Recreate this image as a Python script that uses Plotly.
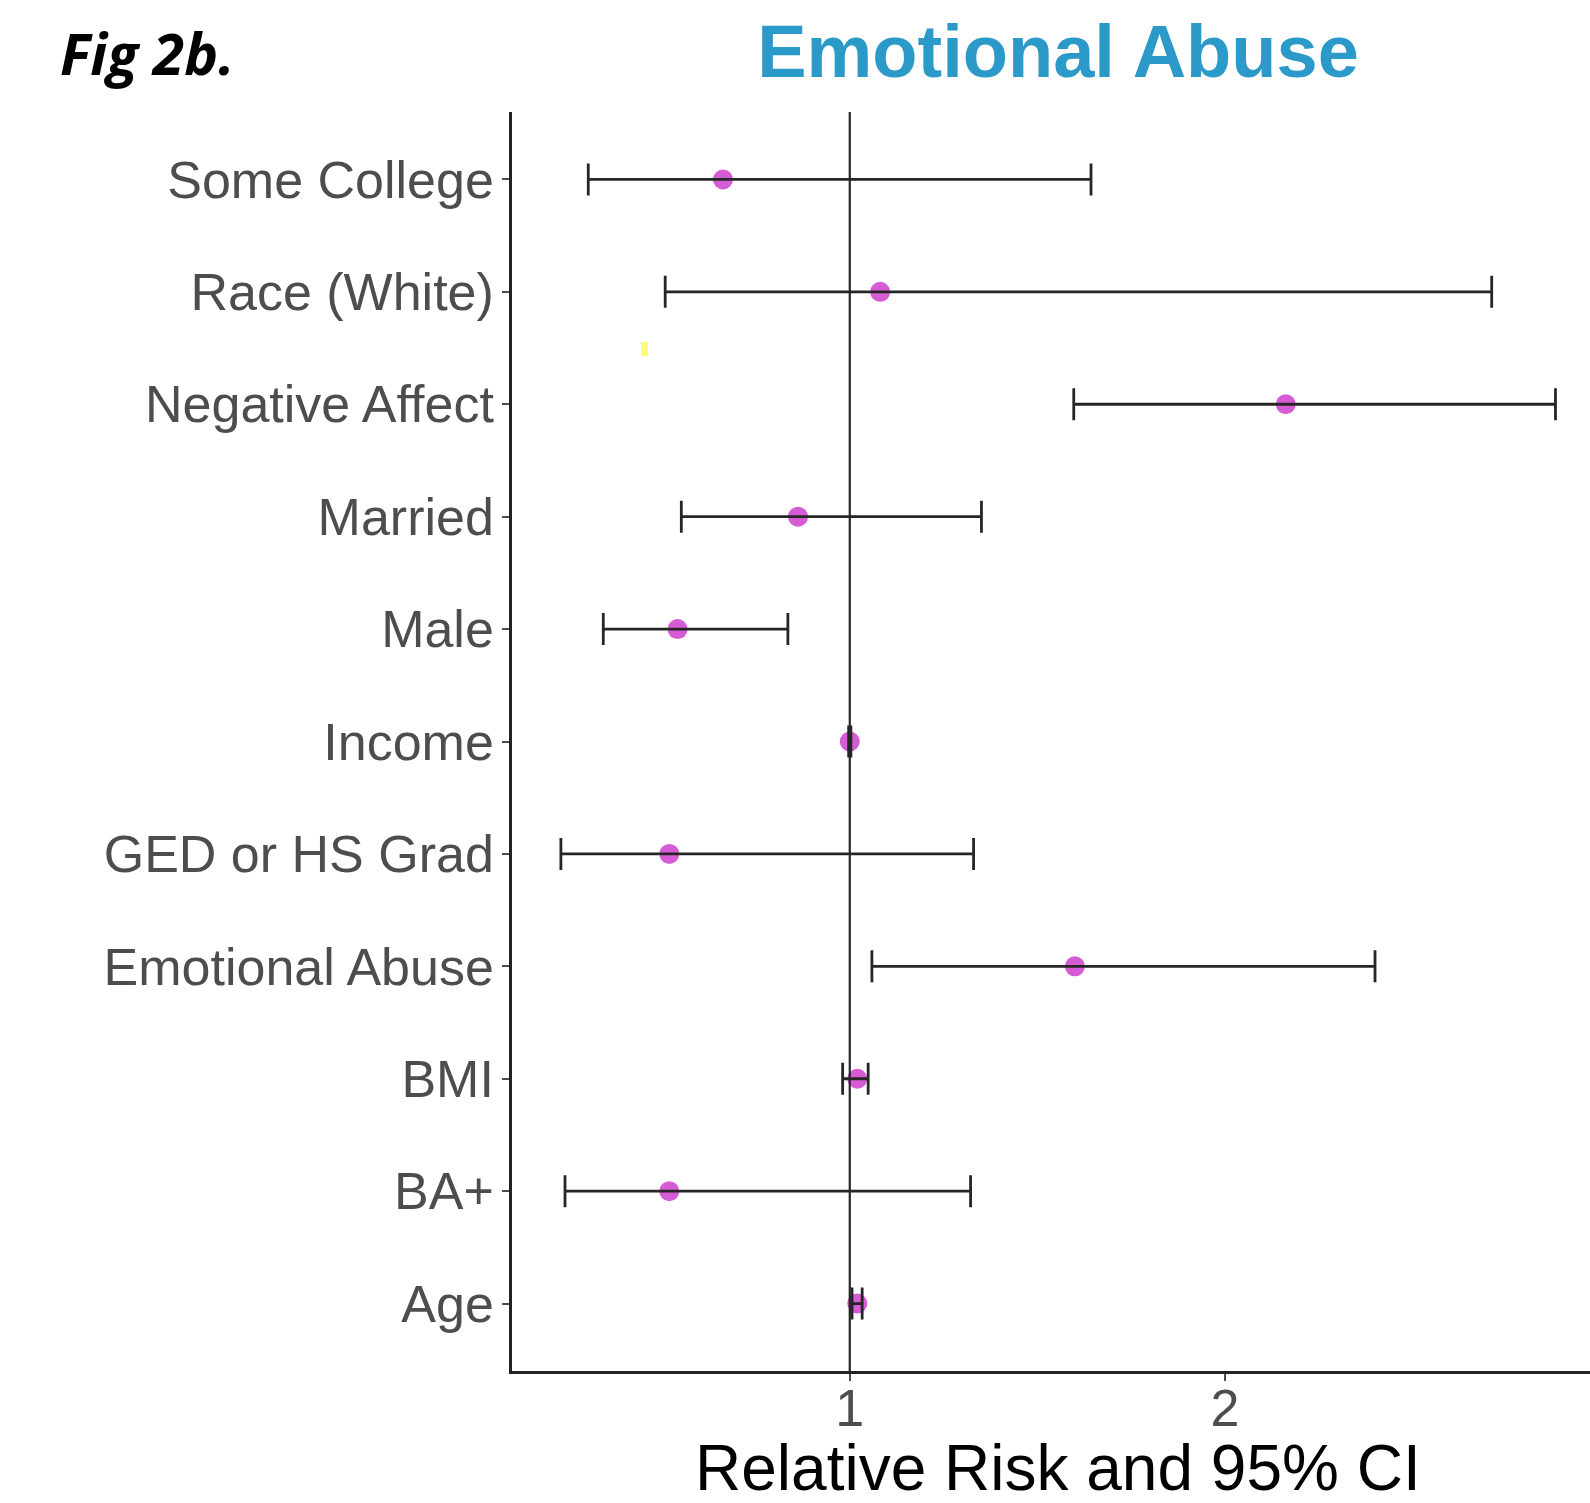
import plotly.graph_objects as go

# ---- data ----
categories = ["Age", "BA+", "BMI", "Emotional Abuse", "GED or HS Grad", "Income",
              "Male", "Married", "Negative Affect", "Race (White)", "Some College"]
rr    = [1.020, 0.519, 1.020, 1.600, 0.519, 1.000, 0.541, 0.862, 2.162, 1.081, 0.662]
lower = [1.006, 0.241, 0.981, 1.059, 0.230, 0.997, 0.343, 0.551, 1.597, 0.508, 0.303]
upper = [1.033, 1.322, 1.049, 2.400, 1.330, 1.003, 0.835, 1.351, 2.881, 2.711, 1.643]
x_ticks = [1, 2, 3]
x_range = [0.0997, 2.973]

err_plus = [u - r for u, r in zip(upper, rr)]
err_minus = [r - l for r, l in zip(rr, lower)]

FONT = "Liberation Sans, Arial, sans-serif"

fig = go.Figure()

# points first (error bars drawn on top, like the reference)
fig.add_trace(go.Scatter(
    x=rr, y=categories, mode="markers",
    marker=dict(color="#CC33CC", size=20, opacity=0.8, line=dict(width=0)),
    showlegend=False, hoverinfo="x+y",
))
fig.add_trace(go.Scatter(
    x=rr, y=categories, mode="markers",
    marker=dict(color="rgba(0,0,0,0)", size=1),
    error_x=dict(type="data", symmetric=False, array=err_plus, arrayminus=err_minus,
                 color="#262626", thickness=2.8, width=16),
    showlegend=False, hoverinfo="skip",
))

# reference line at RR = 1
fig.add_shape(type="line", xref="x", yref="paper", x0=1, x1=1, y0=0, y1=1,
              line=dict(color="#262626", width=2.2), layer="above")

# small yellow artifact present in the source image
fig.add_shape(type="rect", xref="paper", yref="paper",
              x0=(641 - 512) / 1078, x1=(648 - 512) / 1078,
              y0=(1371 - 356) / 1259, y1=(1371 - 342) / 1259,
              fillcolor="#FFFF77", line=dict(width=0), layer="above")

fig.update_layout(
    width=1590, height=1503,
    margin=dict(l=512, r=0, t=112, b=132, autoexpand=False),
    paper_bgcolor="white", plot_bgcolor="white",
    font=dict(family=FONT),
    title=dict(text="<b>Emotional Abuse</b>", x=1058 / 1590, y=1 - 51 / 1503,
               xanchor="center", yanchor="middle", xref="container", yref="container",
               font=dict(family=FONT, size=74, color="#2C9AC9")),
    xaxis=dict(range=x_range, tickvals=x_ticks, ticktext=[str(v) for v in x_ticks],
               showgrid=False, zeroline=False, showline=True, linecolor="#222222",
               linewidth=2.5, ticks="outside", ticklen=7, tickwidth=2, tickcolor="#4D4D4D",
               ticklabelstandoff=-17,
               tickfont=dict(family=FONT, size=52, color="#4D4D4D")),
    yaxis=dict(type="category", categoryorder="array", categoryarray=categories,
               range=[-0.6, len(categories) - 0.4],
               showgrid=False, zeroline=False, showline=True, linecolor="#222222",
               linewidth=2.5, ticks="outside", ticklen=7, tickwidth=2, tickcolor="#4D4D4D",
               ticklabelstandoff=-2,
               tickfont=dict(family=FONT, size=52, color="#4D4D4D")),
    annotations=[
        dict(text="<b><i>Fig 2b.</i></b>", xref="paper", yref="paper",
             x=(58 - 512) / 1078, y=(1371 - 53) / 1259, xanchor="left", yanchor="middle",
             showarrow=False, font=dict(family="Open Sans, sans-serif", size=57, color="black")),
        dict(text="Relative Risk and 95% CI", xref="paper", yref="paper",
             x=(1058 - 512) / 1078, y=(1371 - 1503) / 1259, xanchor="center", yanchor="bottom",
             yshift=-3, showarrow=False, font=dict(family=FONT, size=64, color="black")),
    ],
)

fig.write_html("out.html")
